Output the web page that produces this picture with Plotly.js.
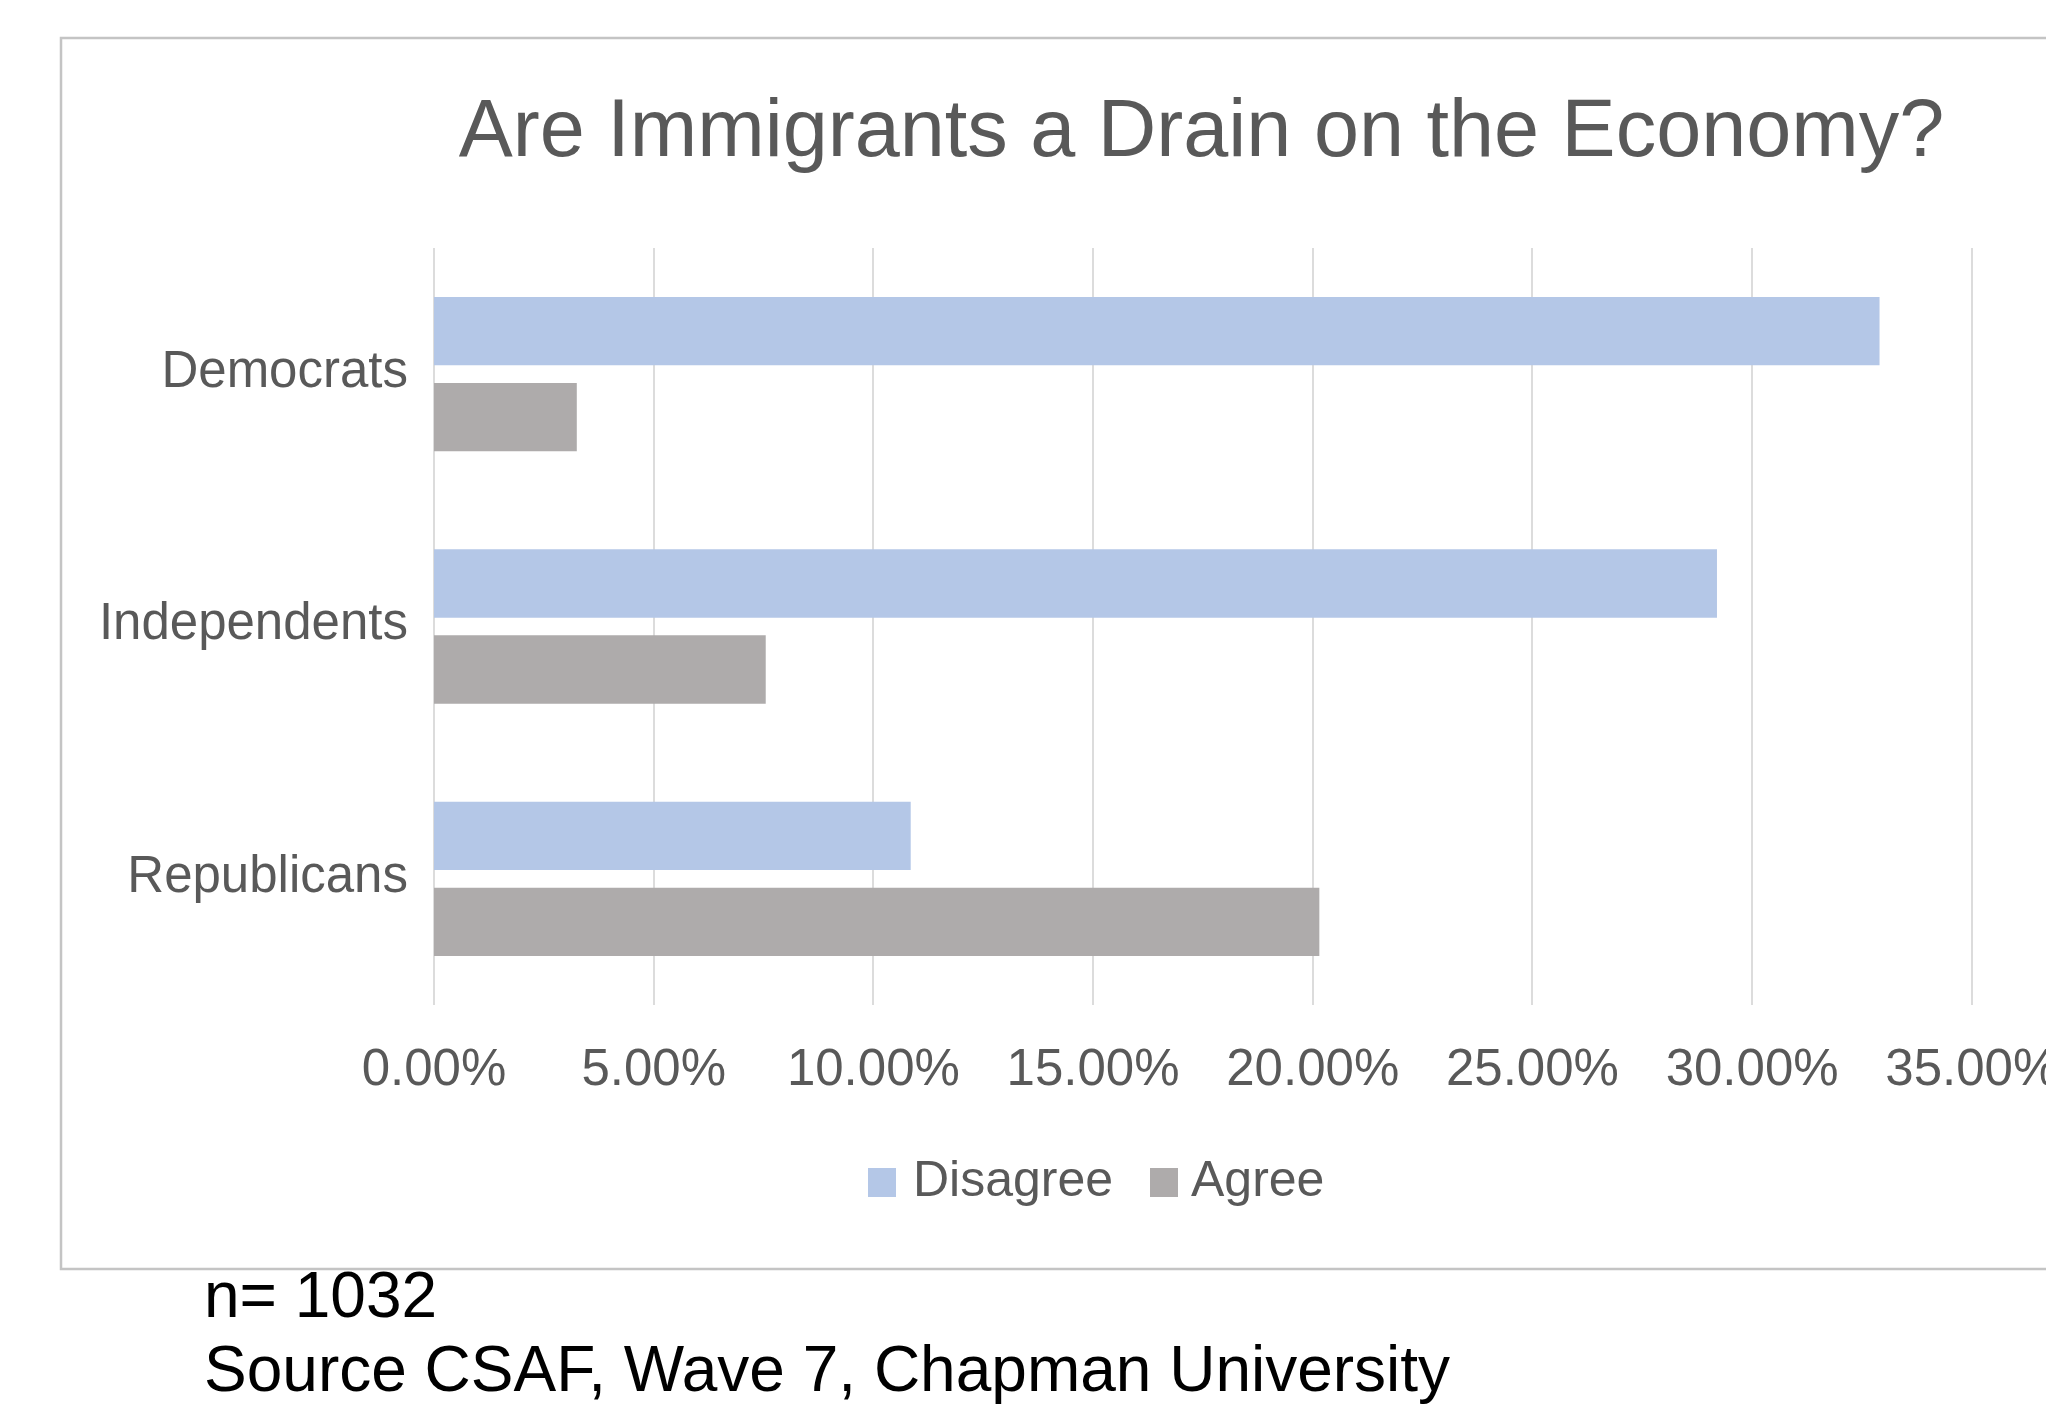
<!DOCTYPE html>
<html>
<head>
<meta charset="utf-8">
<script src="https://cdn.plot.ly/plotly-3.0.1.min.js"></script>
<style>
  html, body { margin: 0; padding: 0; background: #ffffff; overflow: hidden; }
  #chart { width: 2046px; height: 1405px; }
</style>
</head>
<body>
<div id="chart"></div>
<script>
// Survey shares by party identification
const categories = ['Democrats', 'Independents', 'Republicans'];
const seriesNames = ['Disagree', 'Agree'];
const disagree = [0.329, 0.292, 0.1085];
const agree = [0.0325, 0.0755, 0.2015];
const seriesColors = ['#b4c7e7', '#aeabab'];

const chartTitle = 'Are Immigrants a Drain on the Economy?';
const sampleNote = 'n= 1032';
const sourceNote = 'Source CSAF, Wave 7, Chapman University';

// Page and plot-area geometry (pixels)
const W = 2046, H = 1405;
const M = { l: 434, r: 72, t: 248, b: 400 };
const PW = W - M.l - M.r;
const PH = H - M.t - M.b;
const px = x => (x - M.l) / PW;
const py = y => (H - M.b - y) / PH;

const FONT = '"Liberation Sans", Arial, Helvetica, sans-serif';
const TEXT_GREY = '#595959';

const traces = [
  {
    type: 'bar', orientation: 'h', name: seriesNames[0],
    y: categories, x: disagree,
    marker: { color: seriesColors[0] },
    hoverinfo: 'skip', showlegend: false
  },
  {
    type: 'bar', orientation: 'h', name: seriesNames[1],
    y: categories, x: agree,
    marker: { color: seriesColors[1] },
    hoverinfo: 'skip', showlegend: false
  }
];

// Outer chart frame (right edge runs off the page)
const shapes = [
  {
    type: 'rect', xref: 'paper', yref: 'paper',
    x0: px(61), x1: px(2100), y0: py(1269), y1: py(38),
    line: { color: '#c4c4c4', width: 2.5 }, fillcolor: 'rgba(0,0,0,0)', layer: 'below'
  }
];

// Hand-built legend: square swatch + label for each series
const legendItems = [
  { sq: 868, text: 911 },
  { sq: 1150, text: 1189 }
];
const legendBaseline = 1197;
const annotations = [];
seriesNames.forEach((name, i) => {
  const it = legendItems[i];
  shapes.push({
    type: 'rect', xref: 'paper', yref: 'paper',
    x0: px(it.sq), x1: px(it.sq + 28),
    y0: py(legendBaseline), y1: py(legendBaseline - 29),
    line: { width: 0 }, fillcolor: seriesColors[i]
  });
  annotations.push({
    xref: 'paper', yref: 'paper',
    x: px(it.text), y: py(legendBaseline - 18),
    xanchor: 'left', yanchor: 'middle', showarrow: false,
    text: name, font: { family: FONT, size: 50, color: TEXT_GREY }
  });
});

// Footnotes below the frame
annotations.push({
  xref: 'paper', yref: 'paper', x: px(202), y: py(1318 - 23),
  xanchor: 'left', yanchor: 'middle', showarrow: false,
  text: sampleNote, font: { family: FONT, size: 64, color: '#000000' }
});
annotations.push({
  xref: 'paper', yref: 'paper', x: px(202), y: py(1392 - 23),
  xanchor: 'left', yanchor: 'middle', showarrow: false,
  text: sourceNote, font: { family: FONT, size: 64, color: '#000000' }
});

const layout = {
  width: W, height: H,
  margin: M,
  paper_bgcolor: '#ffffff', plot_bgcolor: '#ffffff',
  font: { family: FONT, color: TEXT_GREY },
  title: {
    text: chartTitle,
    font: { family: FONT, size: 81, color: TEXT_GREY },
    xref: 'container', x: 1201.5 / W, xanchor: 'center',
    yref: 'container', y: 1 - 128 / H, yanchor: 'middle'
  },
  barmode: 'group',
  bargap: 0.318,
  bargroupgap: 0.206,
  xaxis: {
    range: [0, 0.3505], tick0: 0, dtick: 0.05, tickformat: '.2%',
    showgrid: true, gridcolor: '#dcdcdc', gridwidth: 2,
    zeroline: true, zerolinecolor: '#dcdcdc', zerolinewidth: 2,
    showline: false, ticks: '',
    tickfont: { family: FONT, size: 51, color: TEXT_GREY },
    ticklabelstandoff: 28,
    ticklabeloverflow: 'allow',
    fixedrange: true
  },
  yaxis: {
    type: 'category', categoryorder: 'array', categoryarray: categories,
    autorange: 'reversed',
    showgrid: false, zeroline: false, showline: false, ticks: '',
    tickfont: { family: FONT, size: 51, color: TEXT_GREY },
    ticklabelstandoff: 25,
    ticklabelshift: 5,
    fixedrange: true
  },
  shapes: shapes,
  annotations: annotations,
  showlegend: false
};

Plotly.newPlot('chart', traces, layout, { staticPlot: true, displayModeBar: false });
</script>
</body>
</html>
